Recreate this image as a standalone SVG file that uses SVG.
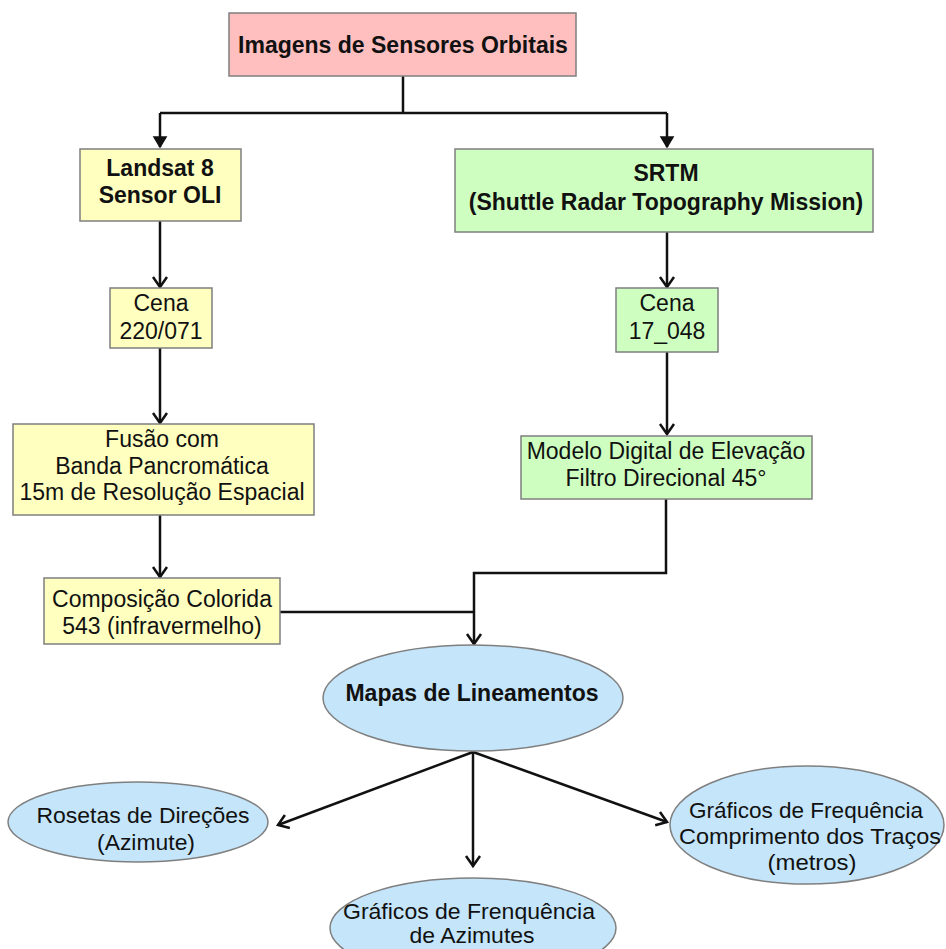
<svg xmlns="http://www.w3.org/2000/svg" width="946" height="949" viewBox="0 0 946 949">
<style>
.box{stroke:#7f7f7f;stroke-width:1.5}
.pink{fill:#ffbfbf}
.yel{fill:#ffffc0}
.grn{fill:#cfffc0}
.blu{fill:#c4e5fa}
.t{font-family:"Liberation Sans",Arial,sans-serif;font-size:23px;fill:#111;text-anchor:middle}
.b{font-weight:bold}
.n{font-family:"Liberation Sans Narrow","Liberation Sans",Arial,sans-serif;font-size:22px}
.c{fill:none;stroke:#111;stroke-width:2.5}
</style>
<defs>
<marker id="vee" markerUnits="userSpaceOnUse" viewBox="-14 -10 16 20" refX="0" refY="0" markerWidth="16" markerHeight="20" orient="auto" overflow="visible">
<path d="M-10,-7 L0,0 L-10,7" fill="none" stroke="#111" stroke-width="2.5"/>
</marker>
<marker id="tri" markerUnits="userSpaceOnUse" viewBox="-14 -10 16 20" refX="0" refY="0" markerWidth="16" markerHeight="20" orient="auto" overflow="visible">
<path d="M-10,-6 L0,0 L-10,6 Z" fill="#111" stroke="#111" stroke-width="1.5"/>
</marker>
</defs>
<rect width="946" height="949" fill="#fff"/>
<g id="connectors" class="c">
<path d="M403,76 V113 M160,113 H667"/>
<path d="M160,113 V147" marker-end="url(#tri)"/>
<path d="M667,113 V147" marker-end="url(#tri)"/>
<path d="M160,221 V287" marker-end="url(#vee)"/>
<path d="M160,348 V423" marker-end="url(#vee)"/>
<path d="M160,515 V577" marker-end="url(#vee)"/>
<path d="M667,232 V287" marker-end="url(#vee)"/>
<path d="M667,352 V434" marker-end="url(#vee)"/>
<path d="M280,612 H474"/>
<path d="M666,499 V573 H474 V644" marker-end="url(#vee)"/>
<path d="M473,752 L278,825" marker-end="url(#vee)"/>
<path d="M473,752 V866" marker-end="url(#vee)"/>
<path d="M473,752 L667,822" marker-end="url(#vee)"/>
</g>
<g id="imagens">
<rect class="box pink" x="229" y="13" width="347" height="63"/>
<text class="t b" x="403" y="53">Imagens de Sensores Orbitais</text>
</g>
<g id="landsat">
<rect class="box yel" x="80" y="149" width="161" height="72"/>
<text class="t b" x="160" y="176">Landsat 8</text>
<text class="t b" x="160" y="203">Sensor OLI</text>
</g>
<g id="srtm">
<rect class="box grn" x="455" y="149" width="418" height="83"/>
<text class="t b" x="666" y="181">SRTM</text>
<text class="t b" x="666" y="210">(Shuttle Radar Topography Mission)</text>
</g>
<g id="cena1">
<rect class="box yel" x="110" y="288" width="102" height="60"/>
<text class="t" x="161" y="311">Cena</text>
<text class="t" x="161" y="339">220/071</text>
</g>
<g id="cena2">
<rect class="box grn" x="616" y="288" width="102" height="64"/>
<text class="t" x="667" y="311">Cena</text>
<text class="t" x="667" y="339">17_048</text>
</g>
<g id="fusao">
<rect class="box yel" x="13" y="424" width="301" height="91"/>
<text class="t" x="162" y="447">Fusão com</text>
<text class="t" x="162" y="474">Banda Pancromática</text>
<text class="t" x="162" y="500">15m de Resolução Espacial</text>
</g>
<g id="composicao">
<rect class="box yel" x="44" y="578" width="236" height="66"/>
<text class="t" x="162" y="607">Composição Colorida</text>
<text class="t" x="162" y="634">543 (infravermelho)</text>
</g>
<g id="modelo">
<rect class="box grn" x="521" y="436" width="291" height="63"/>
<text class="t" x="666" y="459">Modelo Digital de Elevação</text>
<text class="t" x="666" y="486">Filtro Direcional 45°</text>
</g>
<g id="mapas">
<ellipse class="box blu" cx="473" cy="698" rx="150" ry="53"/>
<text class="t b" x="472" y="701">Mapas de Lineamentos</text>
</g>
<g id="rosetas">
<ellipse class="box blu" cx="138" cy="822" rx="130" ry="40"/>
<text class="t n" x="143" y="823" textLength="213" lengthAdjust="spacingAndGlyphs">Rosetas de Direções</text>
<text class="t n" x="146" y="850" textLength="98" lengthAdjust="spacingAndGlyphs">(Azimute)</text>
</g>
<g id="graf-azimutes">
<ellipse class="box blu" cx="473" cy="928" rx="143" ry="50"/>
<text class="t n" x="469" y="919" textLength="252" lengthAdjust="spacingAndGlyphs">Gráficos de Frenquência</text>
<text class="t n" x="472" y="943" textLength="125" lengthAdjust="spacingAndGlyphs">de Azimutes</text>
</g>
<g id="graf-comprimento">
<ellipse class="box blu" cx="807" cy="825" rx="137" ry="59"/>
<text class="t n" x="806" y="818" textLength="234" lengthAdjust="spacingAndGlyphs">Gráficos de Frequência</text>
<text class="t n" x="810" y="844" textLength="262" lengthAdjust="spacingAndGlyphs">Comprimento dos Traços</text>
<text class="t n" x="812" y="870" textLength="89" lengthAdjust="spacingAndGlyphs">(metros)</text>
</g>
</svg>
